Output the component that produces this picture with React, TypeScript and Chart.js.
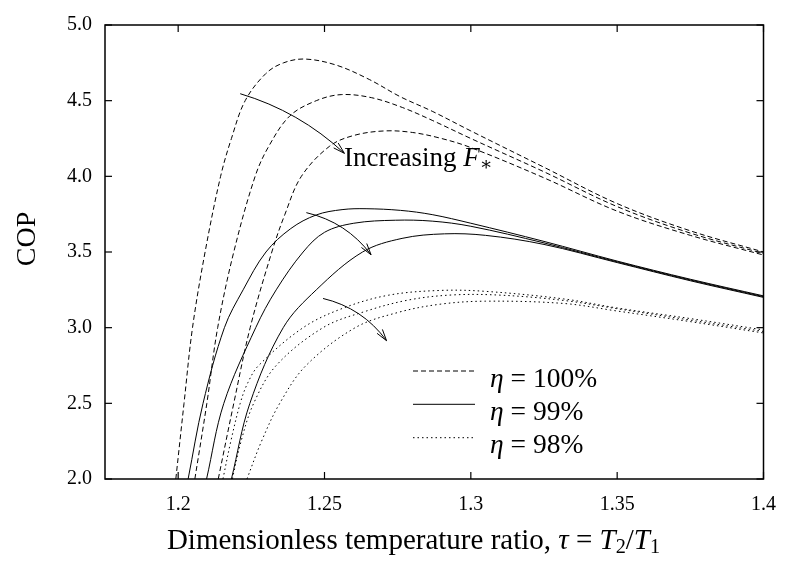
import React, { useEffect, useRef } from "react";
import { Chart, registerables } from "chart.js";

Chart.register(...registerables);

// ---- data ----
const xTicks = [1.2, 1.25, 1.3, 1.35, 1.4];
const yTicks = [2.0, 2.5, 3.0, 3.5, 4.0, 4.5, 5.0];

// eta = 100% (dashed), increasing F*
const tauD1 = [1.1992, 1.202, 1.2049, 1.2092, 1.2145, 1.2182, 1.2229, 1.23, 1.236, 1.2433, 1.254, 1.2653, 1.276, 1.2868, 1.3, 1.325, 1.35, 1.375, 1.4];
const copD1 = [2.0, 2.5, 3.0, 3.5, 4.0, 4.25, 4.5, 4.68, 4.75, 4.775, 4.735, 4.64, 4.525, 4.43, 4.3, 4.06, 3.82, 3.64, 3.5];
const tauD2 = [1.2057, 1.2098, 1.2135, 1.219, 1.2263, 1.231, 1.2382, 1.2472, 1.2557, 1.266, 1.2766, 1.2868, 1.3, 1.325, 1.35, 1.375, 1.4];
const copD2 = [2.0, 2.5, 3.0, 3.5, 4.0, 4.2, 4.4, 4.5, 4.54, 4.52, 4.455, 4.37, 4.25, 4.03, 3.8, 3.625, 3.49];
const tauD3 = [1.2137, 1.219, 1.2246, 1.232, 1.2365, 1.2421, 1.2518, 1.26, 1.2704, 1.28, 1.29, 1.3, 1.325, 1.35, 1.375, 1.4];
const copD3 = [2.0, 2.5, 3.0, 3.5, 3.75, 4.0, 4.2, 4.27, 4.3, 4.29, 4.25, 4.19, 3.99, 3.77, 3.61, 3.48];

// eta = 99% (solid)
const tauS1 = [1.2034, 1.2085, 1.2158, 1.2222, 1.23, 1.2385, 1.2472, 1.256, 1.2642, 1.276, 1.2868, 1.3, 1.325, 1.35, 1.375, 1.4];
const copS1 = [2.0, 2.5, 3.0, 3.25, 3.5, 3.655, 3.745, 3.78, 3.786, 3.775, 3.747, 3.69, 3.57, 3.44, 3.32, 3.21];
const tauS2 = [1.2097, 1.2156, 1.2265, 1.2335, 1.2427, 1.25, 1.26, 1.2742, 1.2868, 1.3, 1.325, 1.35, 1.375, 1.4];
const copS2 = [2.0, 2.5, 3.0, 3.25, 3.5, 3.63, 3.69, 3.71, 3.704, 3.67, 3.56, 3.435, 3.315, 3.205];
const tauS3 = [1.2182, 1.2245, 1.2359, 1.2472, 1.263, 1.2765, 1.291, 1.305, 1.325, 1.35, 1.375, 1.4];
const copS3 = [2.0, 2.5, 3.0, 3.25, 3.5, 3.59, 3.62, 3.61, 3.55, 3.43, 3.31, 3.2];

// eta = 98% (dotted)
const tauP1 = [1.2153, 1.218, 1.2212, 1.2238, 1.2275, 1.2427, 1.2565, 1.272, 1.2895, 1.305, 1.3317, 1.35, 1.375, 1.4];
const copP1 = [2.0, 2.25, 2.5, 2.636, 2.75, 3.0, 3.13, 3.215, 3.246, 3.24, 3.19, 3.13, 3.06, 2.985];
const tauP2 = [1.2185, 1.2215, 1.2258, 1.2335, 1.2495, 1.2635, 1.2785, 1.2935, 1.31, 1.3317, 1.35, 1.375, 1.4];
const copP2 = [2.0, 2.25, 2.5, 2.75, 3.0, 3.105, 3.182, 3.216, 3.215, 3.18, 3.125, 3.05, 2.975];
const tauP3 = [1.2235, 1.2285, 1.2347, 1.2437, 1.2605, 1.275, 1.2895, 1.305, 1.3317, 1.35, 1.375, 1.4];
const copP3 = [2.0, 2.25, 2.5, 2.75, 3.0, 3.1, 3.155, 3.175, 3.16, 3.11, 3.04, 2.965];

// arrows "Increasing F*"
const arrowStartTau = [1.2212, 1.2438, 1.2495];
const arrowStartCop = [4.546, 3.76, 3.193];
const arrowEndTau = [1.2568, 1.2659, 1.2712];
const arrowEndCop = [4.152, 3.482, 2.914];

const legendLabels = ["100%", "99%", "98%"];

const FONT = "'Liberation Serif', 'DejaVu Serif', serif";
const DASHED = [5, 3];
const SOLID: number[] = [];
const DOTTED = [1.5, 3];

type Seg = { t: string; it?: boolean; sub?: boolean };

function segFont(s: Seg, size: number) {
  const sz = s.sub ? size * 0.7 : size;
  return `${s.it ? "italic " : ""}${sz}px ${FONT}`;
}

function drawRich(ctx: CanvasRenderingContext2D, segs: Seg[], x: number, y: number, size: number, align: "left" | "center") {
  let w = 0;
  segs.forEach((s) => {
    ctx.font = segFont(s, size);
    w += ctx.measureText(s.t).width;
  });
  let cx = align === "center" ? x - w / 2 : x;
  ctx.textAlign = "left";
  ctx.textBaseline = "alphabetic";
  segs.forEach((s) => {
    ctx.font = segFont(s, size);
    ctx.fillText(s.t, cx, s.sub ? y + size * 0.15 : y);
    cx += ctx.measureText(s.t).width;
  });
}

const overlay = {
  id: "overlay",
  afterDatasetsDraw(chart: any) {
    const { ctx, chartArea: a, scales } = chart;
    const xs = scales.x;
    const ys = scales.y;
    ctx.save();
    ctx.strokeStyle = "#000";
    ctx.fillStyle = "#000";
    ctx.setLineDash([]);
    const line = (x1: number, y1: number, x2: number, y2: number) => {
      ctx.beginPath();
      ctx.moveTo(x1, y1);
      ctx.lineTo(x2, y2);
      ctx.stroke();
    };
    // frame
    ctx.lineWidth = 1.5;
    ctx.strokeRect(a.left, a.top, a.right - a.left, a.bottom - a.top);
    // inward ticks, mirrored
    ctx.lineWidth = 1.2;
    const TL = 7;
    xs.ticks.forEach((t: any) => {
      const px = xs.getPixelForValue(t.value);
      line(px, a.bottom, px, a.bottom - TL);
      line(px, a.top, px, a.top + TL);
    });
    ys.ticks.forEach((t: any) => {
      const py = ys.getPixelForValue(t.value);
      line(a.left, py, a.left + TL, py);
      line(a.right, py, a.right - TL, py);
    });
    // arrows
    ctx.lineWidth = 1;
    for (let i = 0; i < arrowStartTau.length; i++) {
      const x1 = xs.getPixelForValue(arrowStartTau[i]);
      const y1 = ys.getPixelForValue(arrowStartCop[i]);
      const x2 = xs.getPixelForValue(arrowEndTau[i]);
      const y2 = ys.getPixelForValue(arrowEndCop[i]);
      const dx = x2 - x1, dy = y2 - y1;
      const len = Math.hypot(dx, dy);
      const bow = 14;
      const cxp = (x1 + x2) / 2 + (dy / len) * bow;
      const cyp = (y1 + y2) / 2 - (dx / len) * bow;
      ctx.beginPath();
      ctx.moveTo(x1, y1);
      ctx.quadraticCurveTo(cxp, cyp, x2, y2);
      ctx.stroke();
      const ang = Math.atan2(y2 - cyp, x2 - cxp);
      const hl = 12, ha = 0.28;
      line(x2, y2, x2 - hl * Math.cos(ang - ha), y2 - hl * Math.sin(ang - ha));
      line(x2, y2, x2 - hl * Math.cos(ang + ha), y2 - hl * Math.sin(ang + ha));
    }
    // legend
    const dashes = [DASHED, SOLID, DOTTED];
    const rowY = [371, 404.3, 437.7];
    for (let i = 0; i < 3; i++) {
      ctx.setLineDash(dashes[i]);
      ctx.lineWidth = 1;
      line(413, rowY[i], 475, rowY[i]);
      ctx.setLineDash([]);
      drawRich(ctx, [{ t: "η", it: true }, { t: " = " + legendLabels[i] }], 490, rowY[i] + 15.7, 27.5, "left");
    }
    // annotation
    drawRich(ctx, [{ t: "Increasing " }, { t: "F", it: true }, { t: "∗", sub: true }], 344, 166, 27, "left");
    // x title
    drawRich(
      ctx,
      [
        { t: "Dimensionless temperature ratio, " },
        { t: "τ", it: true },
        { t: " = " },
        { t: "T", it: true },
        { t: "2", sub: true },
        { t: "/" },
        { t: "T", it: true },
        { t: "1", sub: true },
      ],
      413.5,
      549,
      29,
      "center"
    );
    // y title
    ctx.save();
    ctx.translate(35, 239);
    ctx.rotate(-Math.PI / 2);
    ctx.font = `28px ${FONT}`;
    ctx.textAlign = "center";
    ctx.textBaseline = "alphabetic";
    ctx.fillText("COP", 0, 0);
    ctx.restore();
    ctx.restore();
  },
};

function ds(tau: number[], cop: number[], dash: number[], label: string) {
  return {
    label,
    data: tau.map((x, i) => ({ x, y: cop[i] })),
    borderColor: "#000",
    borderWidth: 1,
    borderDash: dash,
    pointRadius: 0,
    showLine: true,
    fill: false,
    tension: 0.35,
  };
}

export default function App() {
  const ref = useRef<HTMLCanvasElement | null>(null);
  useEffect(() => {
    if (!ref.current) return;
    const chart = new Chart(ref.current, {
      type: "scatter",
      data: {
        datasets: [
          ds(tauD1, copD1, DASHED, "η = 100%"),
          ds(tauD2, copD2, DASHED, "η = 100%"),
          ds(tauD3, copD3, DASHED, "η = 100%"),
          ds(tauS1, copS1, SOLID, "η = 99%"),
          ds(tauS2, copS2, SOLID, "η = 99%"),
          ds(tauS3, copS3, SOLID, "η = 99%"),
          ds(tauP1, copP1, DOTTED, "η = 98%"),
          ds(tauP2, copP2, DOTTED, "η = 98%"),
          ds(tauP3, copP3, DOTTED, "η = 98%"),
        ] as any,
      },
      options: {
        animation: false,
        responsive: false,
        devicePixelRatio: 1,
        layout: { padding: { left: 0, right: 21, top: 12, bottom: 0 } },
        plugins: { legend: { display: false }, tooltip: { enabled: false } },
        scales: {
          x: {
            type: "linear",
            min: 1.175,
            max: 1.4,
            afterBuildTicks: (s: any) => {
              s.ticks = xTicks.map((v) => ({ value: v }));
            },
            afterFit: (s: any) => {
              s.height = 86;
            },
            grid: { display: false, drawTicks: false },
            border: { display: false },
            ticks: {
              padding: 14,
              color: "#000",
              font: { family: FONT, size: 20 },
              maxRotation: 0,
              autoSkip: false,
              callback: (v: any) => String(v),
            },
          },
          y: {
            type: "linear",
            min: 2,
            max: 5,
            afterBuildTicks: (s: any) => {
              s.ticks = yTicks.map((v) => ({ value: v }));
            },
            afterFit: (s: any) => {
              s.width = 105;
            },
            grid: { display: false, drawTicks: false },
            border: { display: false },
            ticks: {
              padding: 13,
              color: "#000",
              font: { family: FONT, size: 20 },
              autoSkip: false,
              callback: (v: any) => Number(v).toFixed(1),
            },
          },
        },
      },
      plugins: [overlay],
    });
    return () => chart.destroy();
  }, []);
  return (
    <div style={{ position: "absolute", left: 0, top: 0, width: 790, height: 565, background: "#fff" }}>
      <canvas ref={ref} width={790} height={565} style={{ width: 790, height: 565 }} />
    </div>
  );
}
